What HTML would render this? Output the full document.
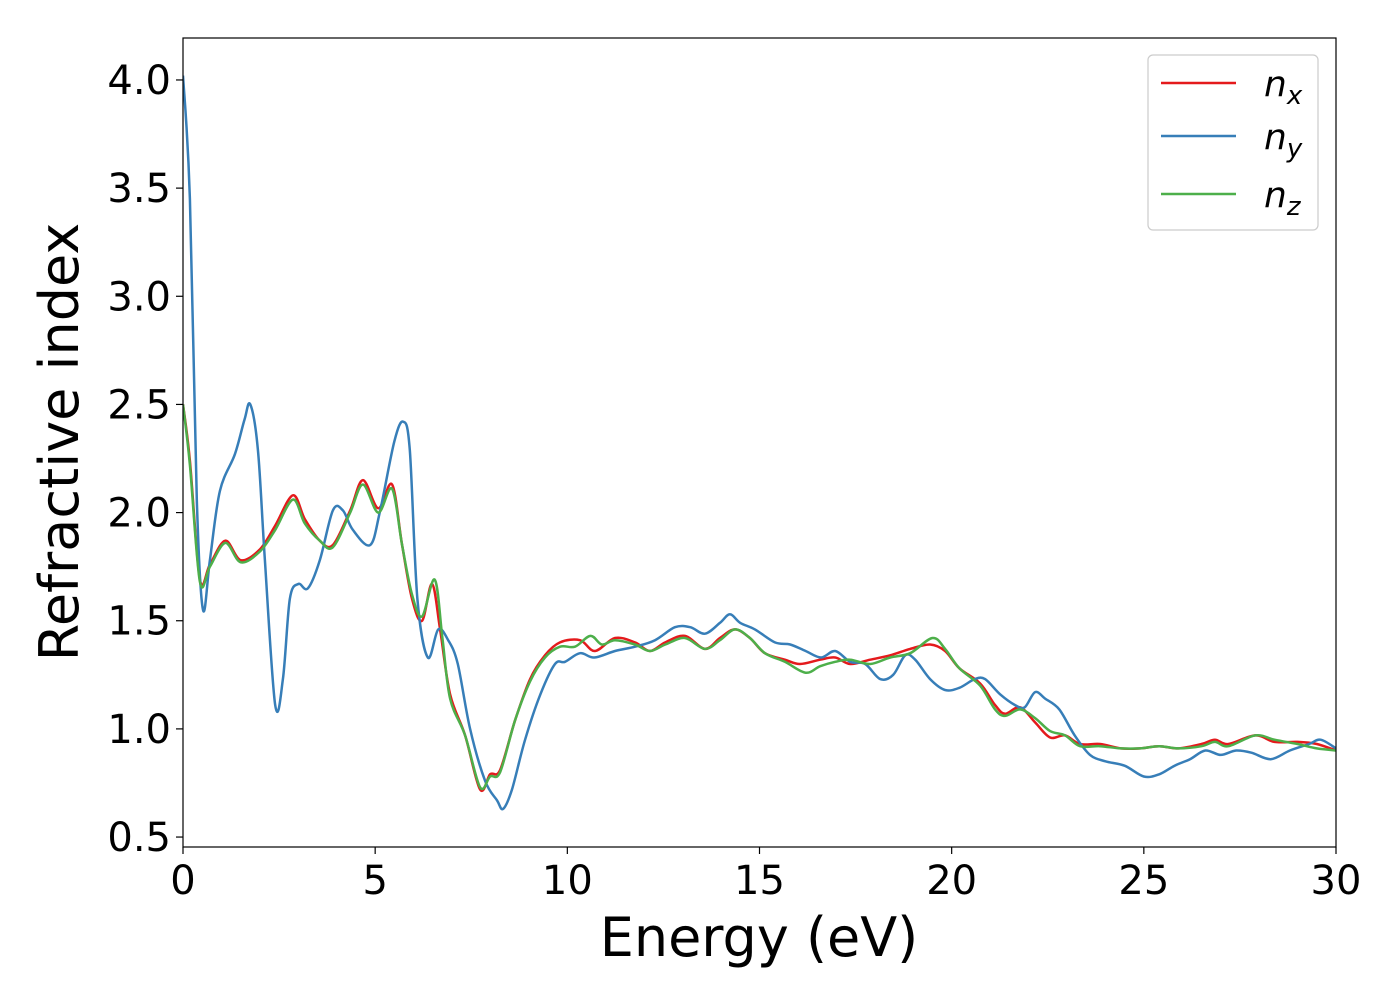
<!DOCTYPE html>
<html><head><meta charset="utf-8"><style>
html,body{margin:0;padding:0;background:#fff;}
svg text{font-family:"DejaVu Sans","Liberation Sans",sans-serif;}
</style></head><body>
<svg id="chart" width="1400" height="1000" viewBox="0 0 1400 1000" xmlns="http://www.w3.org/2000/svg">
<rect width="1400" height="1000" fill="#fff"/>
<g id="series"></g>
<rect x="183" y="38" width="1153" height="809" fill="none" stroke="#000" stroke-width="1.2"/>
<g id="ticks"></g>
<text x="759" y="956" font-size="54" text-anchor="middle">Energy (eV)</text>
<text transform="translate(78,442) rotate(-90)" font-size="54" text-anchor="middle">Refractive index</text>
<g>
<rect x="1148" y="55" width="170" height="175" rx="5" fill="#fff" stroke="#ccc" stroke-width="1.2"/>
<line x1="1161" y1="83" x2="1236" y2="83" stroke="#e41a1c" stroke-width="2.5"/>
<text x="1264" y="96" font-size="36" font-style="italic">n<tspan font-size="26" dy="8">x</tspan></text>
<line x1="1161" y1="136" x2="1236" y2="136" stroke="#377eb8" stroke-width="2.5"/>
<text x="1264" y="149" font-size="36" font-style="italic">n<tspan font-size="26" dy="8">y</tspan></text>
<line x1="1161" y1="194" x2="1236" y2="194" stroke="#4daf4a" stroke-width="2.5"/>
<text x="1264" y="207" font-size="36" font-style="italic">n<tspan font-size="26" dy="8">z</tspan></text>
</g>
</svg>
<script>
const xTicks=[0,5,10,15,20,25,30];
const yTicks=[0.5,1.0,1.5,2.0,2.5,3.0,3.5,4.0];
const yTickLabels=["0.5","1.0","1.5","2.0","2.5","3.0","3.5","4.0"];
const nyE=[0,0.18,0.36,0.52,0.7,0.96,1.35,1.6,1.75,1.95,2.13,2.4,2.6,2.78,3.0,3.25,3.56,3.9,4.16,4.42,4.87,5.13,5.5,5.73,5.9,6.1,6.37,6.64,6.9,7.15,7.47,7.86,8.17,8.33,8.56,8.9,9.3,9.68,9.94,10.33,10.7,11.24,11.76,12.28,12.8,13.2,13.58,13.97,14.23,14.5,14.88,15.4,15.8,16.2,16.6,16.97,17.36,17.75,18.14,18.48,18.79,19.05,19.44,19.83,20.2,20.6,20.87,21.26,21.65,21.9,22.17,22.43,22.8,23.2,23.6,24.0,24.5,25.0,25.4,25.8,26.2,26.6,27.0,27.4,27.8,28.3,28.8,29.3,29.6,30];
const nyV=[4.02,3.45,2.06,1.55,1.78,2.1,2.27,2.43,2.5,2.29,1.78,1.11,1.23,1.6,1.67,1.65,1.78,2.01,2.01,1.92,1.85,2.01,2.33,2.42,2.29,1.6,1.33,1.46,1.41,1.3,1.0,0.76,0.67,0.63,0.72,0.95,1.16,1.3,1.31,1.35,1.33,1.36,1.38,1.41,1.47,1.47,1.44,1.49,1.53,1.49,1.46,1.4,1.39,1.36,1.33,1.36,1.31,1.3,1.23,1.25,1.34,1.32,1.23,1.18,1.19,1.23,1.23,1.16,1.11,1.1,1.17,1.14,1.09,0.97,0.88,0.85,0.83,0.78,0.79,0.83,0.86,0.9,0.88,0.9,0.89,0.86,0.9,0.93,0.95,0.91];
const nxE=[0,0.18,0.44,0.7,1.1,1.5,2.0,2.4,2.86,3.17,3.56,3.9,4.35,4.68,5.08,5.44,5.7,5.96,6.22,6.48,6.69,6.95,7.34,7.73,7.99,8.25,8.64,9.03,9.42,9.81,10.33,10.72,11.24,11.76,12.15,12.55,13.06,13.58,13.97,14.36,14.75,15.14,15.66,16.05,16.58,16.97,17.36,17.88,18.4,18.92,19.44,19.83,20.2,20.74,21.13,21.39,21.78,22.17,22.56,22.95,23.34,23.86,24.4,24.9,25.4,25.9,26.5,26.85,27.2,27.9,28.4,29.0,29.5,30];
const nxV=[2.5,2.24,1.69,1.76,1.87,1.78,1.83,1.94,2.08,1.97,1.87,1.85,2.01,2.15,2.02,2.13,1.85,1.6,1.5,1.67,1.46,1.16,0.97,0.72,0.79,0.81,1.04,1.23,1.34,1.4,1.41,1.36,1.42,1.4,1.36,1.4,1.43,1.37,1.42,1.46,1.42,1.35,1.32,1.3,1.32,1.33,1.3,1.32,1.34,1.37,1.39,1.36,1.28,1.21,1.11,1.07,1.1,1.03,0.96,0.97,0.93,0.93,0.91,0.91,0.92,0.91,0.93,0.95,0.93,0.97,0.94,0.94,0.93,0.9];
const nzE=[0,0.18,0.44,0.7,1.1,1.5,2.0,2.4,2.86,3.17,3.56,3.9,4.35,4.68,5.08,5.44,5.7,5.96,6.22,6.55,6.75,6.95,7.34,7.73,7.99,8.25,8.64,9.03,9.42,9.81,10.2,10.6,10.9,11.24,11.76,12.15,12.55,13.06,13.58,13.97,14.36,14.75,15.14,15.66,16.2,16.58,16.97,17.36,17.88,18.4,18.92,19.5,19.83,20.2,20.74,21.13,21.39,21.78,22.17,22.56,22.95,23.34,23.86,24.4,24.9,25.4,25.9,26.5,26.85,27.2,27.9,28.4,29.0,29.5,30];
const nzV=[2.5,2.22,1.68,1.75,1.86,1.77,1.82,1.92,2.06,1.95,1.87,1.84,2.0,2.13,2.0,2.11,1.85,1.62,1.52,1.69,1.42,1.14,0.97,0.73,0.78,0.8,1.04,1.22,1.33,1.38,1.38,1.43,1.39,1.41,1.39,1.36,1.39,1.42,1.37,1.41,1.46,1.42,1.35,1.31,1.26,1.29,1.31,1.32,1.3,1.33,1.35,1.42,1.37,1.28,1.2,1.09,1.06,1.09,1.05,0.99,0.97,0.92,0.92,0.91,0.91,0.92,0.91,0.92,0.94,0.92,0.97,0.95,0.93,0.91,0.9];
const X0=183,X1=1336,Y0=847,Y1=38,YMIN=0.454,YMAX=4.194;
function sx(e){return X0+(e-0)/(30-0)*(X1-X0);}
function sy(v){return Y0-(v-YMIN)/(YMAX-YMIN)*(Y0-Y1);}
function pathFor(E,V){
  const p=E.map((e,i)=>[sx(e),sy(V[i])]);
  let d="M"+p[0][0].toFixed(1)+","+p[0][1].toFixed(1);
  for(let i=0;i<p.length-1;i++){
    const a=p[Math.max(0,i-1)],b=p[i],c=p[i+1],n=p[Math.min(p.length-1,i+2)];
    const c1=[b[0]+(c[0]-a[0])/6,b[1]+(c[1]-a[1])/6],c2=[c[0]-(n[0]-b[0])/6,c[1]-(n[1]-b[1])/6];
    d+=" C"+c1[0].toFixed(1)+","+c1[1].toFixed(1)+" "+c2[0].toFixed(1)+","+c2[1].toFixed(1)+" "+c[0].toFixed(1)+","+c[1].toFixed(1);
  }
  return d;
}
const NS="http://www.w3.org/2000/svg";
const sg=document.getElementById("series");
const clip=document.createElementNS(NS,"clipPath");clip.setAttribute("id","pc");
const cr=document.createElementNS(NS,"rect");cr.setAttribute("x",X0);cr.setAttribute("y",Y1);cr.setAttribute("width",X1-X0);cr.setAttribute("height",Y0-Y1);
clip.appendChild(cr);sg.appendChild(clip);
[[nxE,nxV,"#e41a1c","series-nx"],[nyE,nyV,"#377eb8","series-ny"],[nzE,nzV,"#4daf4a","series-nz"]].forEach(s=>{
  const el=document.createElementNS(NS,"path");
  el.setAttribute("d",pathFor(s[0],s[1]));
  el.setAttribute("fill","none");el.setAttribute("stroke",s[2]);el.setAttribute("stroke-width","2.5");
  el.setAttribute("clip-path","url(#pc)");
  
  
  sg.appendChild(el);
});
const tg=document.getElementById("ticks");
xTicks.forEach(t=>{
  const l=document.createElementNS(NS,"line");
  l.setAttribute("x1",sx(t));l.setAttribute("x2",sx(t));l.setAttribute("y1",Y0);l.setAttribute("y2",Y0+7);l.setAttribute("stroke","#000");l.setAttribute("stroke-width","1.2");
  
  
  tg.appendChild(l);
  const tx=document.createElementNS(NS,"text");
  tx.setAttribute("x",sx(t));tx.setAttribute("y",Y0+47);tx.setAttribute("font-size","40");tx.setAttribute("text-anchor","middle");
  tx.textContent=String(t);
  
  
  tg.appendChild(tx);
});
yTicks.forEach((t,i)=>{
  const l=document.createElementNS(NS,"line");
  l.setAttribute("x1",X0-7);l.setAttribute("x2",X0);l.setAttribute("y1",sy(t));l.setAttribute("y2",sy(t));l.setAttribute("stroke","#000");l.setAttribute("stroke-width","1.2");
  
  
  tg.appendChild(l);
  const tx=document.createElementNS(NS,"text");
  tx.setAttribute("x",X0-12);tx.setAttribute("y",sy(t)+14);tx.setAttribute("font-size","40");tx.setAttribute("text-anchor","end");
  tx.textContent=yTickLabels[i];
  
  
  tg.appendChild(tx);
});
</script>
</body></html>
